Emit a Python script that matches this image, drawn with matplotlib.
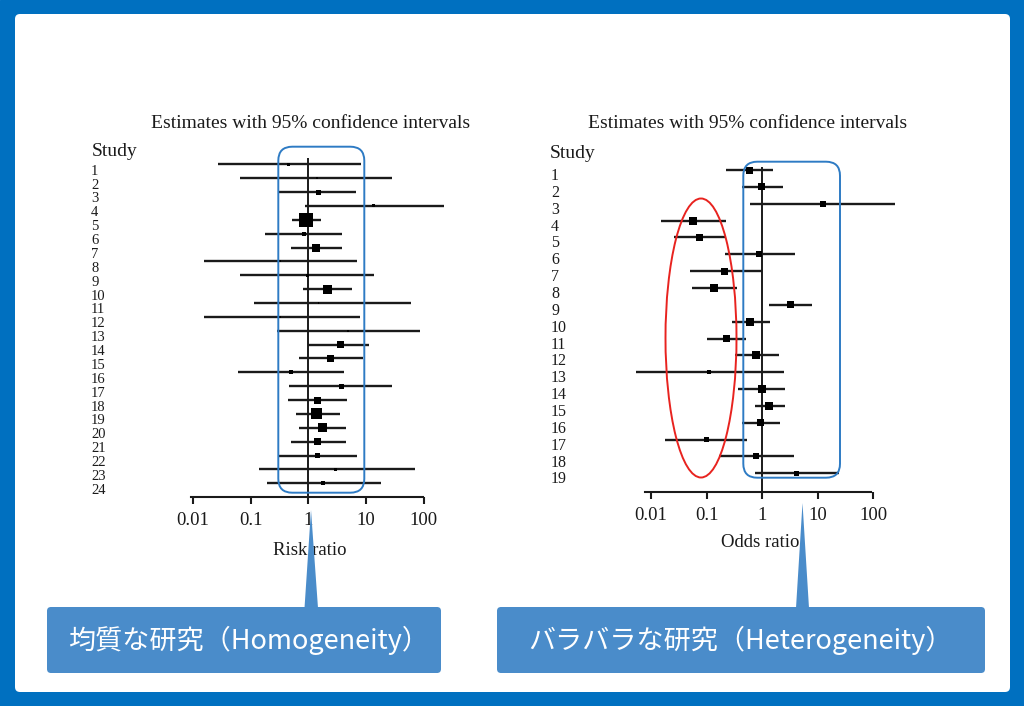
import matplotlib
matplotlib.use("Agg")
import matplotlib.pyplot as plt
from matplotlib.patches import FancyBboxPatch, Ellipse, Polygon
import numpy as np

# --- left panel: risk ratios (homogeneous studies) ---
rr_study = list(range(1, 25))
rr_est = [0.45, 1.39, 1.48, 13.4, 0.91, 0.84, 1.35, 0.33, 0.96, 2.14, 1.5, 0.33,
          4.85, 3.63, 2.45, 0.50, 3.73, 1.44, 1.41, 1.76, 1.47, 1.47, 2.98, 1.81]
rr_lo = [0.027, 0.067, 0.31, 0.88, 0.52, 0.176, 0.50, 0.016, 0.067, 0.80, 0.114, 0.0154,
         0.29, 1.0, 0.70, 0.061, 0.47, 0.45, 0.615, 0.69, 0.50, 0.31, 0.14, 0.19]
rr_hi = [8.2, 28.6, 6.7, 220, 1.63, 3.88, 3.88, 7.0, 13.5, 5.7, 59, 7.7,
         84, 11.4, 8.8, 4.14, 27.9, 4.66, 3.49, 4.54, 4.54, 7.0, 70, 18]
rr_weight = [3, 2, 5, 3, 14, 4, 8, 2, 3, 9, 1.5, 2, 2, 7, 7, 4, 5, 7, 11, 9, 7, 5, 3, 4]

# --- right panel: odds ratios (heterogeneous studies) ---
or_study = list(range(1, 20))
or_est = [0.60, 0.97, 12.5, 0.058, 0.076, 0.87, 0.213, 0.139, 3.23, 0.60,
          0.225, 0.79, 0.113, 0.98, 1.35, 0.93, 0.099, 0.79, 4.25]
or_lo = [0.22, 0.44, 0.60, 0.0153, 0.026, 0.213, 0.0495, 0.055, 1.32, 0.289,
         0.10, 0.32, 0.0053, 0.37, 0.74, 0.43, 0.0176, 0.167, 0.74]
or_hi = [1.56, 2.35, 248, 0.229, 0.213, 3.86, 1.0, 0.356, 7.9, 1.37,
         0.52, 2.05, 2.45, 2.63, 2.63, 2.13, 0.54, 3.71, 24.5]
or_weight = [7, 7, 6, 8, 7, 6, 7, 8, 7, 8, 7, 8, 4, 8, 8, 7, 5, 6, 5]

ticks = [0.01, 0.1, 1, 10, 100]
tick_labels = ["0.01", "0.1", "1", "10", "100"]

W, H = 1024, 706
fig = plt.figure(figsize=(W / 100, H / 100), dpi=100)
serif = "Liberation Serif"
ink = "#1a1a1a"


def px_axes(x0, y0, x1, y1, z=1):
    a = fig.add_axes([x0 / W, 1 - y1 / H, (x1 - x0) / W, (y1 - y0) / H], zorder=z)
    a.patch.set_alpha(0)
    return a


bg = px_axes(0, 0, W, H, z=0)
bg.set_xlim(0, W)
bg.set_ylim(H, 0)
bg.axis("off")
bg.add_patch(plt.Rectangle((0, 0), W, H, color="#0070c0"))
bg.add_patch(FancyBboxPatch((15, 14), 995, 678, boxstyle="round,pad=0,rounding_size=5",
                            fc="white", ec="none"))


def forest(x0, x1, y_axis, one_px, dec_px, row1_px, row_px, span,
           study, est, lo, hi, weight, xlabel, lab_x, lab_dy, line_top, lpad, lab_fs):
    ax = px_axes(x0, 140, x1, y_axis, z=2)
    ax.set_xscale("log")
    ax.set_xlim(10 ** ((x0 - one_px) / dec_px), 10 ** ((x1 - one_px) / dec_px))
    ax.set_ylim(1 + (y_axis - row1_px) / row_px, 1 + (140 - row1_px) / row_px)
    rows = np.array(study)
    ax.hlines(rows, lo, hi, color=ink, lw=1.7)
    ax.scatter(est, rows, marker="s", s=(np.array(weight) * 0.72) ** 2,
               color="black", zorder=3, linewidths=0)
    ax.vlines(1, line_top, ax.get_ylim()[0], color=ink, lw=1.4)
    for s in ["left", "right", "top"]:
        ax.spines[s].set_visible(False)
    ax.spines["bottom"].set_linewidth(1.5)
    ax.spines["bottom"].set_color(ink)
    ax.spines["bottom"].set_bounds(*span)
    ax.set_yticks([])
    ax.set_xticks(ticks)
    ax.set_xticklabels(tick_labels, family=serif, fontsize=13.5, color=ink)
    ax.minorticks_off()
    ax.tick_params(axis="x", direction="out", length=5, width=1.5, color=ink, pad=6)
    ax.set_xlabel(xlabel, family=serif, fontsize=13.5, color=ink, labelpad=lpad)
    tr = ax.get_yaxis_transform()
    fx = (lab_x - x0) / (x1 - x0)
    for r in study:
        ax.text(fx, r + lab_dy, str(r), transform=tr, family=serif, fontsize=lab_fs,
                color=ink, ha="left", va="center")
    return ax


forest(150, 470, 497, 308.3, 57.8, 164.3, 13.87, (0.0093, 97),
       rr_study, rr_est, rr_lo, rr_hi, rr_weight, "Risk ratio", 91, 0.5, 0.55, 9, 10.5)
forest(600, 920, 491.7, 762, 55.5, 170, 16.85, (0.0078, 92),
       or_study, or_est, or_lo, or_hi, or_weight, "Odds ratio", 551, 0.36, 0.8, 7, 11.5)

bg.text(311, 124, "Estimates with 95% confidence intervals", family=serif,
        fontsize=14, color=ink, ha="center", va="center")
bg.text(748, 124, "Estimates with 95% confidence intervals", family=serif,
        fontsize=14, color=ink, ha="center", va="center")
bg.text(92, 151, "Study", family=serif, fontsize=14, color=ink, ha="left", va="center")
bg.text(550, 153, "Study", family=serif, fontsize=14, color=ink, ha="left", va="center")

# overlay: highlight shapes and callouts
fg = px_axes(0, 0, W, H, z=5)
fg.set_xlim(0, W)
fg.set_ylim(H, 0)
fg.axis("off")
blue = "#2e7bc4"
fg.add_patch(FancyBboxPatch((278.3, 146.7), 86, 346, boxstyle="round,pad=0,rounding_size=14",
                            fc="none", ec=blue, lw=1.4))
fg.add_patch(FancyBboxPatch((743.3, 161.7), 96.7, 316, boxstyle="round,pad=0,rounding_size=14",
                            fc="none", ec=blue, lw=1.4))
fg.add_patch(Ellipse((701, 338), 71, 279, fc="none", ec="#e8231f", lw=1.4))

box = "#4a8cca"
fg.add_patch(FancyBboxPatch((47, 607), 394, 66, boxstyle="round,pad=0,rounding_size=4",
                            fc=box, ec="none"))
fg.add_patch(FancyBboxPatch((497, 607), 488, 66, boxstyle="round,pad=0,rounding_size=4",
                            fc=box, ec="none"))
fg.add_patch(Polygon([(304.5, 608), (318, 608), (311, 510)], closed=True, fc=box, ec="none"))
fg.add_patch(Polygon([(796, 608), (809, 608), (802.5, 503)], closed=True, fc=box, ec="none"))
cjk = ["Noto Sans CJK JP", "DejaVu Sans"]
fg.text(68, 640, "均質な研究（Homogeneity）", family=cjk, fontsize=19.5, color="white",
        ha="left", va="center")
fg.text(528, 640, "バラバラな研究（Heterogeneity）", family=cjk, fontsize=19.5, color="white",
        ha="left", va="center")

fig.savefig("out.png", dpi=100)
